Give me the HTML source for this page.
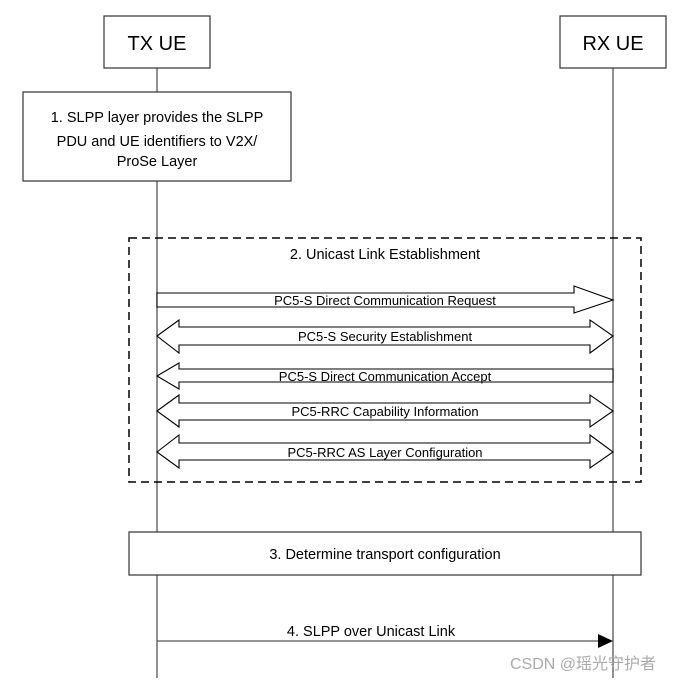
<!DOCTYPE html>
<html><head><meta charset="utf-8"><style>
html,body{margin:0;padding:0;background:#fff}
text{font-family:"Liberation Sans",sans-serif;fill:#000}
</style></head><body>
<svg width="685" height="681" viewBox="0 0 685 681" xmlns="http://www.w3.org/2000/svg">
<g stroke="#555" stroke-width="1.3" fill="none">
<line x1="157" y1="68" x2="157" y2="92"/>
<line x1="157" y1="181" x2="157" y2="532"/>
<line x1="157" y1="575" x2="157" y2="678"/>
<line x1="613" y1="68" x2="613" y2="532"/>
<line x1="613" y1="575" x2="613" y2="678"/>
</g>
<g stroke="#333" stroke-width="1.2" fill="#fff">
<rect x="104" y="16" width="106" height="52"/>
<rect x="560" y="16" width="106" height="52"/>
<rect x="23" y="92" width="268" height="89"/>
<rect x="129" y="532" width="512" height="43"/>
</g>
<rect x="129" y="238" width="512" height="244" fill="none" stroke="#000" stroke-width="1.5" stroke-dasharray="8,5"/>
<text x="157" y="50" font-size="20" text-anchor="middle">TX UE</text>
<text x="613" y="50" font-size="20" text-anchor="middle">RX UE</text>
<g font-size="14.5" text-anchor="middle">
<text x="157" y="122">1. SLPP layer provides the SLPP</text>
<text x="157" y="146">PDU and UE identifiers to V2X/</text>
<text x="157" y="166">ProSe Layer</text>
<text x="385" y="259">2. Unicast Link Establishment</text>
<text x="385" y="559">3. Determine transport configuration</text>
<text x="371" y="636">4. SLPP over Unicast Link</text>
</g>
<g stroke="#000" stroke-width="1.1" fill="#fff">
<polygon points="157,293 574,293 574,286 613,300 574,313 574,307 157,307"/>
<polygon points="157,336 179,320 179,327 590,327 590,320 613,336 590,353 590,345 179,345 179,353"/>
<polygon points="157,376 179,363 179,369 613,369 613,382 179,382 179,389"/>
<polygon points="157,411 179,395 179,403 590,403 590,395 613,411 590,427 590,420 179,420 179,427"/>
<polygon points="157,452 179,435 179,443 590,443 590,435 613,452 590,468 590,460 179,460 179,468"/>
</g>
<g font-size="13" text-anchor="middle">
<text x="385" y="305">PC5-S Direct Communication Request</text>
<text x="385" y="341">PC5-S Security Establishment</text>
<text x="385" y="381">PC5-S Direct Communication Accept</text>
<text x="385" y="416">PC5-RRC Capability Information</text>
<text x="385" y="457">PC5-RRC AS Layer Configuration</text>
</g>
<line x1="157" y1="641" x2="600" y2="641" stroke="#555" stroke-width="1.3"/>
<polygon points="598,634 613,641 598,648" fill="#000"/>
<text x="583" y="669" font-size="16" fill="#aaa" style="fill:#aaa;font-family:'Liberation Sans','Noto Sans CJK SC',sans-serif" text-anchor="middle">CSDN @瑶光守护者</text>
</svg>
</body></html>
